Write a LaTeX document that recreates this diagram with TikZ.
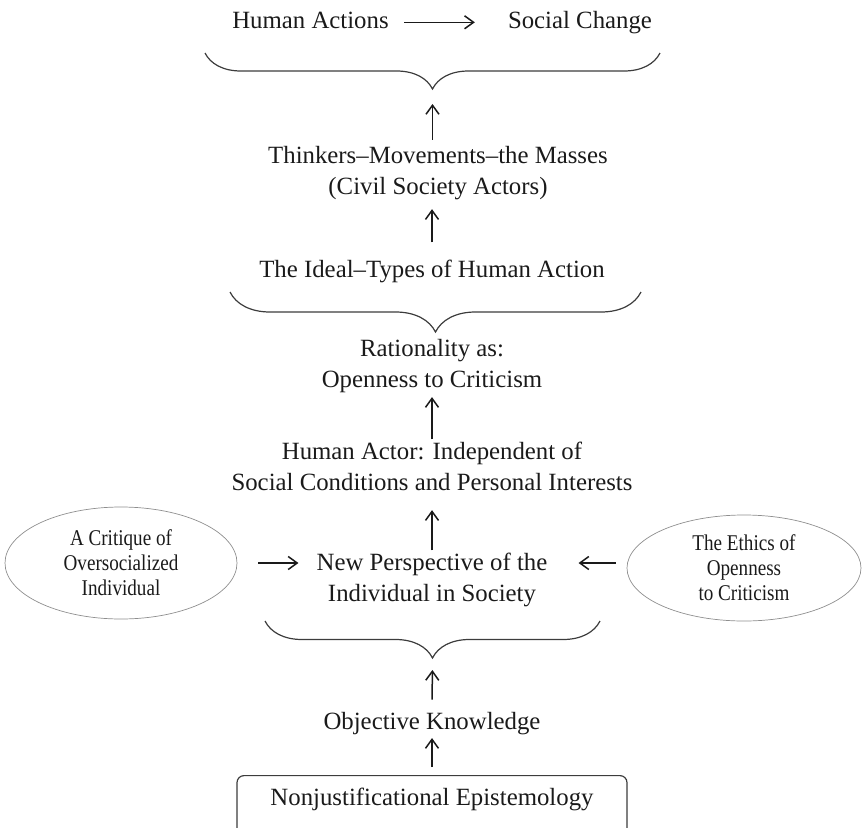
\documentclass[tikz,border=0pt]{standalone}
\usepackage{fontspec}
\setmainfont{Liberation Serif}
\newfontfamily\ovalfont[FakeStretch=0.85]{Liberation Serif}
\usetikzlibrary{arrows.meta,decorations.pathreplacing,shapes.geometric}
\definecolor{inkgray}{HTML}{1A1A1A}
\definecolor{bracegray}{HTML}{3C3C3C}
\definecolor{ovalgray}{HTML}{8E8E8E}
\tikzset{stage/.style={align=center, inner sep=2pt, anchor=base, text=inkgray,
  font=\fontsize{24.8}{31}\selectfont},
  headline/.style={stage, text height=16.8pt, text depth=5.4pt},
  sidenote/.style={ellipse, draw=ovalgray, line width=0.7pt, inner sep=0pt,
  align=center, text=inkgray, font=\ovalfont\fontsize{22.5}{25}\selectfont},
  rootbox/.style={draw=bracegray, line width=1.2pt, rounded corners=7pt, anchor=north,
  minimum width=390pt, inner ysep=13pt, text height=16.8pt, text depth=20pt,
  text=inkgray, font=\fontsize{24.8}{31}\selectfont},
  leadarrow/.style={-{Straight Barb[length=9pt,width=13pt]}, line width=1.5pt, inkgray},
  groupbrace/.style={decorate, decoration={brace, mirror, amplitude=#1},
  line width=1.2pt, bracegray}}

\begin{document}
\begin{tikzpicture}[x=1pt, y=-1pt]
  \useasboundingbox (0,0) rectangle (863,828);
  \clip (0,0) rectangle (863,828);
  % top line
  \node[headline] (actions) at (310.5,28) {Human Actions};
  \node[headline] (change) at (580,28) {Social Change};
  \draw[leadarrow, shorten <=13.5pt, shorten >=31pt] (actions) -- (change);
  \draw[groupbrace=36] (205,53) -- (660,53);
  \coordinate (top tip) at (432.5,89);
  % actors and ideal types
  \node[stage] (thinkers) at (438,194) {Thinkers–Movements–the Masses\\(Civil Society Actors)};
  \draw[leadarrow, shorten <=4pt, shorten >=15pt] (thinkers.north -| top tip) -- (top tip);
  \node[stage] (ideal) at (432,277) {The Ideal–Types of Human Action};
  \draw[leadarrow, shorten <=15pt, shorten >=7.6pt] (ideal.north) -- (ideal.north |- thinkers.south);
  \draw[groupbrace=40] (230,292) -- (641,292);
  % rationality and the actor
  \node[stage] (rationality) at (432,387) {Rationality as:\\Openness to Criticism};
  \node[stage] (actor) at (432,490) {Human Actor: Independent of\\Social Conditions and Personal Interests};
  \draw[leadarrow, shorten >=2.6pt] (actor.north) -- (rationality.south);
  \node[stage] (perspective) at (432,601) {New Perspective of the\\Individual in Society};
  \draw[leadarrow, shorten >=17.7pt] (perspective.north) -- (actor.south);
  % side ellipses
  \node[sidenote, minimum width=232pt, minimum height=112pt] (critique) at (121,563) {A Critique of\\Oversocialized\\Individual};
  \node[sidenote, minimum width=234pt, minimum height=106pt] (ethics) at (744,568) {The Ethics of\\Openness\\to Criticism};
  \draw[leadarrow, shorten <=21pt, shorten >=16pt] (critique.east) -- (critique.east -| perspective.west);
  \draw[leadarrow, shorten <=11pt, shorten >=29pt] (ethics.west |- critique.east) -- (perspective.east |- critique.east);
  % knowledge base
  \draw[groupbrace=37] (265,621) -- (600,621);
  \coordinate (low tip) at (432.5,658);
  \node[stage] (objective) at (432,729) {Objective Knowledge};
  \draw[leadarrow, shorten <=10pt, shorten >=12pt] (objective.north) -- (low tip);
  \node[rootbox] (epistemology) at (432,775) {Nonjustificational Epistemology};
  \draw[leadarrow, shorten <=8pt, shorten >=1.5pt] (epistemology.north) -- (objective.south);
\end{tikzpicture}
\end{document}
